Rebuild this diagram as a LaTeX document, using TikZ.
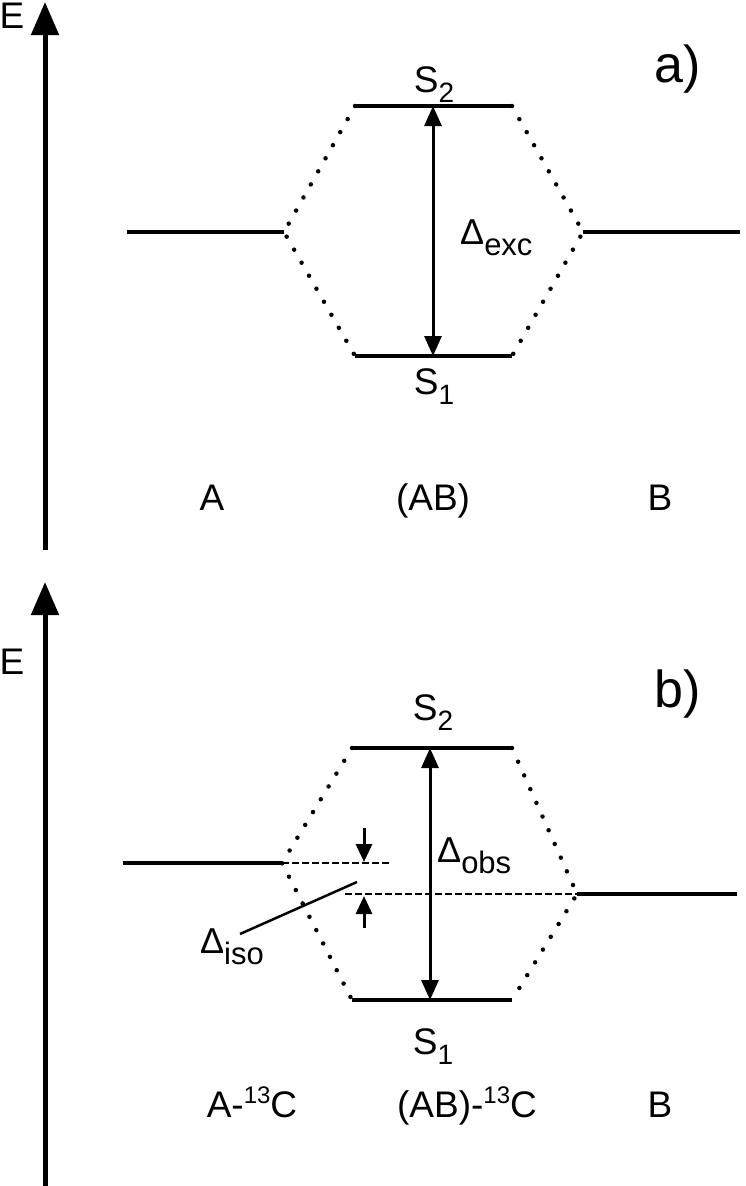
\documentclass[tikz,border=0pt]{standalone}
\usepackage{fontspec}
\setmainfont{Liberation Sans}
\usetikzlibrary{arrows.meta}
\newcommand{\lsub}[1]{\raisebox{-10pt}{\fontsize{28}{28}\selectfont #1}}
\newcommand{\lsup}[1]{\raisebox{14pt}{\fontsize{24}{24}\selectfont #1}}
\newcommand{\dsub}[1]{\raisebox{-11pt}{\fontsize{31}{31}\selectfont #1}}
\begin{document}
\begin{tikzpicture}[x=1pt,y=-1pt,
  level/.style={line width=4pt},
  axis/.style={line width=5pt,-{Triangle[length=33pt,width=27pt]}},
  gap/.style={line width=3pt,{Triangle[length=20pt,width=17pt]}-{Triangle[length=20pt,width=17pt]}},
  corr/.style={line width=4.5pt,line cap=round,dash pattern=on 0pt off 15pt},
  dashlvl/.style={line width=1.8pt,dash pattern=on 6.5pt off 3.5pt},
  small/.style={line width=3pt,-{Triangle[length=18pt,width=16pt]}},
  leader/.style={line width=2.5pt},
  lab/.style={font=\fontsize{37}{37}\selectfont,inner sep=0pt,anchor=base},
  panel/.style={font=\fontsize{52}{52}\selectfont,inner sep=0pt,anchor=base},
  dlab/.style={font=\fontsize{36}{36}\selectfont,inner sep=0pt,anchor=base west},
]
\useasboundingbox (0,0) rectangle (745,1186);
% ---------- panel a ----------
\coordinate (ax1b) at (45,550); \coordinate (ax1t) at (45,2);
\draw[axis] (ax1b) -- (ax1t);
\node[lab] (E1) at (12,28) {E};
\coordinate (A1l) at (127,232); \coordinate (A1r) at (284,232);
\coordinate (S2l) at (355,106); \coordinate (S2r) at (512,106);
\coordinate (S1l) at (355,356); \coordinate (S1r) at (512,356);
\coordinate (B1l) at (583,232); \coordinate (B1r) at (740,232);
\draw[level] (A1l) -- (A1r);
\draw[level] (S2l) -- (S2r);
\draw[level] (S1l) -- (S1r);
\draw[level] (B1l) -- (B1r);
\draw[corr] (S2l) -- (A1r) -- (S1l);
\draw[corr] (S2r) -- (B1l) -- (S1r);
\coordinate (g1t) at (433,106); \coordinate (g1b) at (433,356);
\draw[gap] (g1t) -- (g1b);
\node[lab] (s2a) at (434,92) {S\lsub{2}};
\node[lab] (s1a) at (434,394) {S\lsub{1}};
\node[dlab] (dexc) at (460,244) {Δ\dsub{exc}};
\node[lab] (lA) at (212,510) {A};
\node[lab] (lAB) at (433,510) {(AB)};
\node[lab] (lB) at (660,510) {B};
\node[panel] (pa) at (678,82) {a)};
% ---------- panel b ----------
\coordinate (ax2b) at (45,1186); \coordinate (ax2t) at (45,582);
\draw[axis] (ax2b) -- (ax2t);
\node[lab] (E2) at (12,674) {E};
\coordinate (A2l) at (123,863); \coordinate (A2r) at (282,863); \coordinate (A2d) at (390,863);
\coordinate (B2d) at (345,894); \coordinate (B2l) at (577,894); \coordinate (B2r) at (737,894);
\coordinate (T2l) at (352,748); \coordinate (T2r) at (512,748);
\coordinate (U2l) at (352,1000); \coordinate (U2r) at (512,1000);
\draw[level] (A2l) -- (A2r);
\draw[dashlvl] (A2r) -- (A2d);
\draw[dashlvl] (B2d) -- (B2l);
\draw[level] (B2l) -- (B2r);
\draw[level] (T2l) -- (T2r);
\draw[level] (U2l) -- (U2r);
\draw[corr] (T2l) -- (A2r) -- (U2l);
\draw[corr] (T2r) -- (B2l) -- (U2r);
\coordinate (g2t) at (430,748); \coordinate (g2b) at (430,1000);
\draw[gap] (g2t) -- (g2b);
\coordinate (dn0) at (364,828); \coordinate (dn1) at (364,862);
\coordinate (up0) at (364,928); \coordinate (up1) at (364,896);
\draw[small] (dn0) -- (dn1);
\draw[small] (up0) -- (up1);
\coordinate (ld0) at (240,934); \coordinate (ld1) at (357,882);
\draw[leader] (ld0) -- (ld1);
\node[lab] (s2b) at (433,720) {S\lsub{2}};
\node[lab] (s1b) at (433,1054) {S\lsub{1}};
\node[dlab] (dobs) at (437,862) {Δ\dsub{obs}};
\node[dlab] (diso) at (200,953) {Δ\dsub{iso}};
\node[lab] (lA2) at (252,1117) {A-\lsup{13}C};
\node[lab] (lAB2) at (467,1117) {(AB)-\lsup{13}C};
\node[lab] (lB2) at (660,1117) {B};
\node[panel] (pb) at (678,707) {b)};
\end{tikzpicture}
\end{document}
